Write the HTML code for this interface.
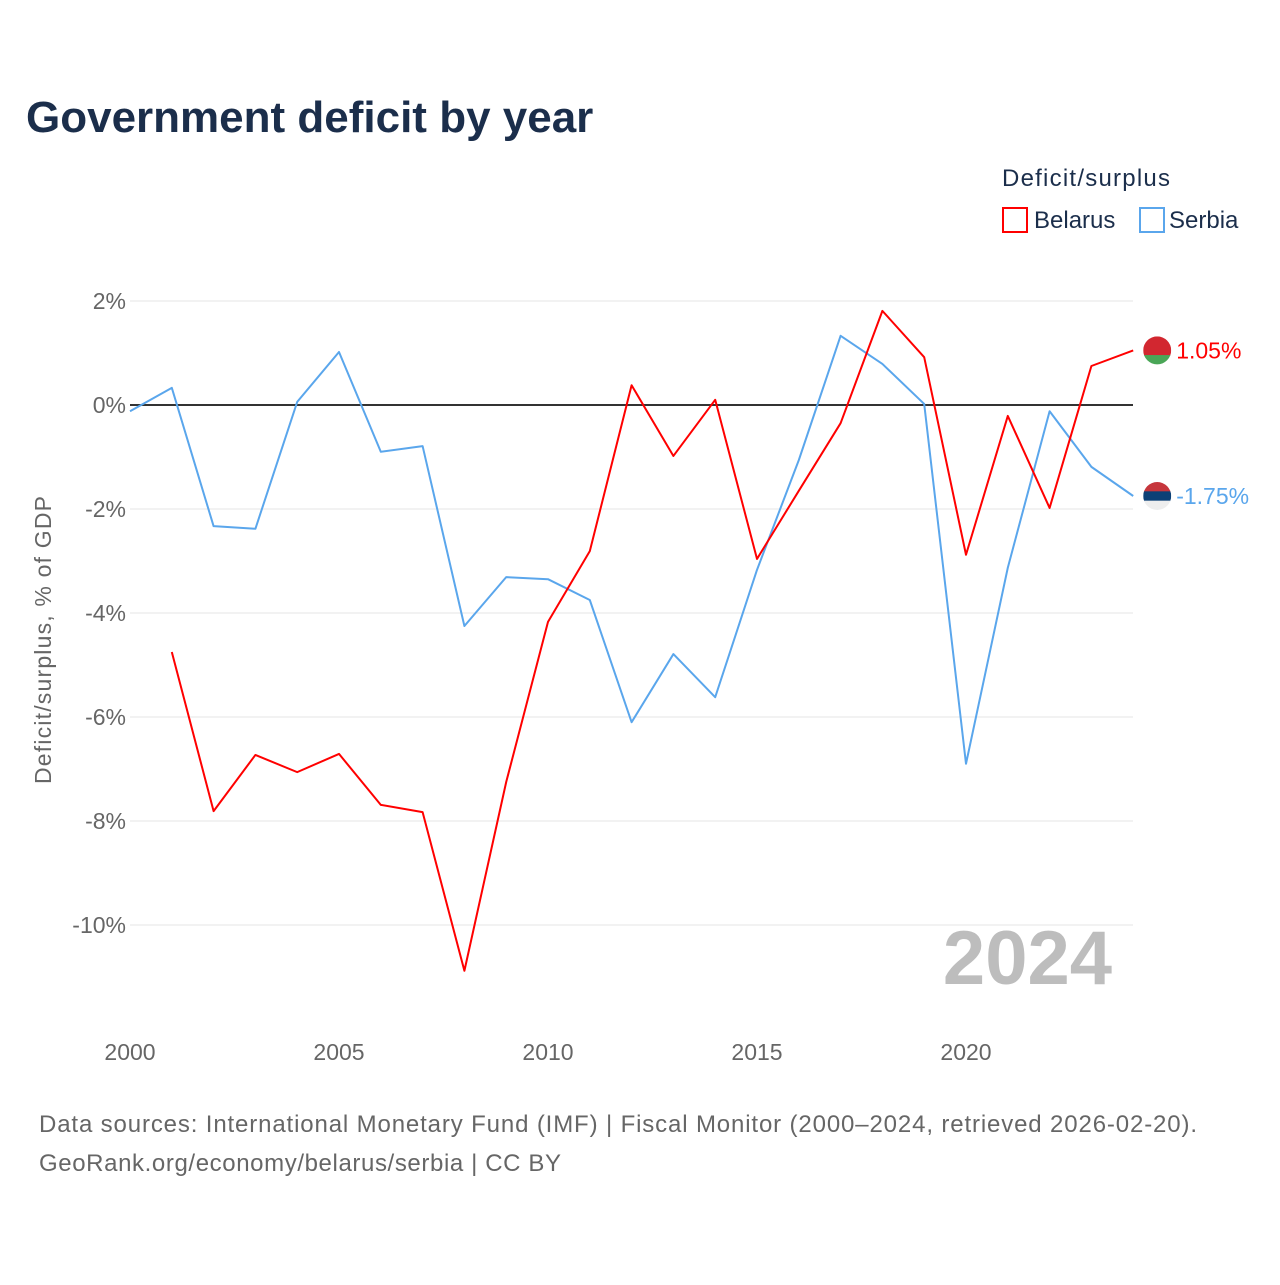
<!DOCTYPE html>
<html><head><meta charset="utf-8">
<style>
body{margin:0;background:#fff;font-family:"Liberation Sans",sans-serif;}
svg text{font-family:"Liberation Sans",sans-serif;}
</style></head>
<body>
<svg id="chart" width="1280" height="1280" xmlns="http://www.w3.org/2000/svg">
<rect width="1280" height="1280" fill="#fff"/>
<text x="26" y="132" font-size="44" font-weight="bold" fill="#1b2e4b">Government deficit by year</text>
<text x="1002" y="186" font-size="24" fill="#1b2e4b" textLength="168">Deficit/surplus</text>
<rect x="1003" y="208" width="24" height="24" fill="none" stroke="#ff0000" stroke-width="2"/>
<text x="1034" y="228" font-size="24" fill="#1b2e4b">Belarus</text>
<rect x="1140" y="208" width="24" height="24" fill="none" stroke="#5aa6ec" stroke-width="2"/>
<text x="1169" y="228" font-size="24" fill="#1b2e4b">Serbia</text>
<text transform="translate(51,640) rotate(-90)" text-anchor="middle" font-size="23" fill="#666" textLength="288">Deficit/surplus, % of GDP</text>
<text x="1112" y="984" text-anchor="end" font-size="76" font-weight="bold" fill="#bdbdbd">2024</text>
<g id="grid"></g><g id="plot"></g>
<text x="39" y="1132" font-size="24" fill="#666" textLength="1158">Data sources: International Monetary Fund (IMF) | Fiscal Monitor (2000–2024, retrieved 2026-02-20).</text>
<text x="39" y="1171" font-size="24" fill="#666" textLength="522">GeoRank.org/economy/belarus/serbia | CC BY</text>
</svg>
<script>
const years=[2000,2001,2002,2003,2004,2005,2006,2007,2008,2009,2010,2011,2012,2013,2014,2015,2016,2017,2018,2019,2020,2021,2022,2023,2024];
const serbia=[-0.12,0.33,-2.33,-2.38,0.06,1.02,-0.9,-0.79,-4.25,-3.31,-3.35,-3.75,-6.1,-4.79,-5.62,-3.17,-1.06,1.33,0.79,0.02,-6.9,-3.13,-0.12,-1.19,-1.75];
const belarus=[null,-4.75,-7.81,-6.73,-7.06,-6.71,-7.69,-7.83,-10.88,-7.25,-4.17,-2.81,0.38,-0.98,0.1,-2.96,-1.65,-0.35,1.81,0.92,-2.88,-0.21,-1.98,0.75,1.05];
const yTicks=[2,0,-2,-4,-6,-8,-10];
const xTicks=[2000,2005,2010,2015,2020];
const NS="http://www.w3.org/2000/svg";
const xS=y=>130+(y-2000)*41.8;
const yS=v=>405-v*52;
const grid=document.getElementById('grid'),plot=document.getElementById('plot');
function mk(tag,attrs,parent){const e=document.createElementNS(NS,tag);for(const k in attrs)e.setAttribute(k,attrs[k]);parent.appendChild(e);return e;}
yTicks.forEach(t=>{
 const l=mk('line',{x1:130,x2:1133,y1:yS(t),y2:yS(t),stroke:t===0?'#333':'#e6e6e6','stroke-width':t===0?2:1},grid);
 
 
 const tx=mk('text',{x:126,y:yS(t)+8,'text-anchor':'end','font-size':23,fill:'#666'},grid);
 tx.textContent=t+'%';
 
 
});
xTicks.forEach(t=>{
 const tx=mk('text',{x:xS(t),y:1060,'text-anchor':'middle','font-size':23,fill:'#666'},grid);
 tx.textContent=t;
 
 
});
function line(vals,color,name){
 const pts=[];vals.forEach((v,i)=>{if(v!==null)pts.push(xS(years[i])+','+yS(v));});
 const p=mk('polyline',{points:pts.join(' '),fill:'none',stroke:color,'stroke-width':2,'stroke-linejoin':'round'},plot);
 
 
}
line(serbia,'#5aa6ec','serbia-line');
line(belarus,'#ff0000','belarus-line');
function endLabel(vals,color,name,colors){
 const v=vals[vals.length-1],x=xS(2024)+24,y=yS(v);
 const g=mk('g',{},plot);
 
 
 mk('clipPath',{id:'clip-'+name},g);
 mk('circle',{cx:x,cy:y,r:14},g.lastChild);
 const n=colors.length,h=28/n;
 colors.forEach((c,i)=>mk('rect',{x:x-14,y:y-14+i*h,width:28,height:h+0.5,fill:c,'clip-path':'url(#clip-'+name+')'},g));
 const t=mk('text',{x:x+19,y:y+8,'font-size':23,fill:color},plot);
 t.textContent=v.toFixed(2)+'%';
 
 
}
endLabel(belarus,'#ff0000','belarus',['#d22730','#d22730','#4aa657']);
endLabel(serbia,'#5aa6ec','serbia',['#c6363c','#0c4076','#eeeeee']);
</script>
</body></html>
